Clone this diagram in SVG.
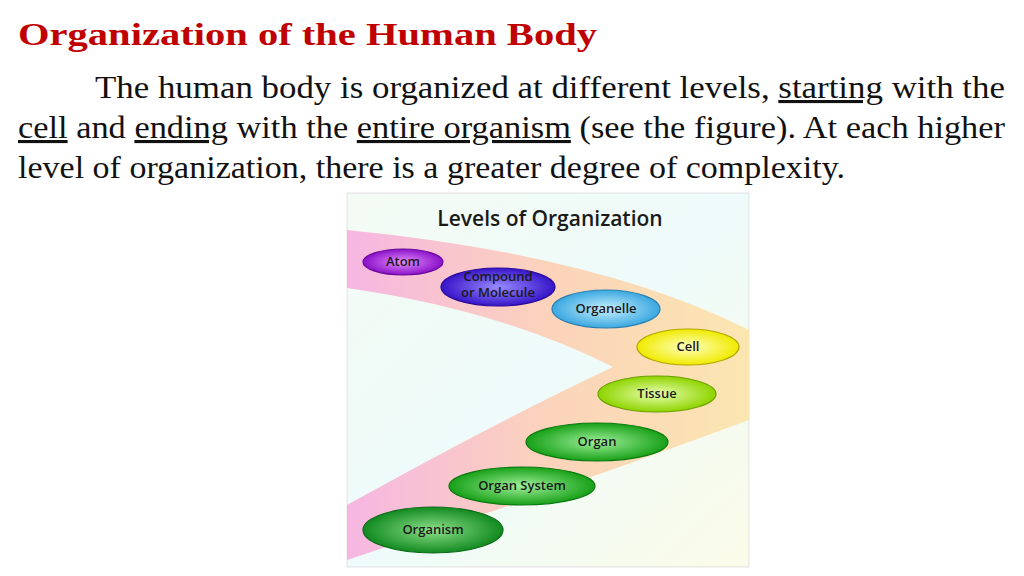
<svg xmlns="http://www.w3.org/2000/svg" width="1024" height="576" viewBox="0 0 1024 576">
<style>
.serif{font-family:"Liberation Serif","Times New Roman",Tinos,serif;font-size:31px;fill:#111}
.title{font-family:"Liberation Serif","Times New Roman",Tinos,serif;font-weight:bold;font-size:31px;fill:#c00000}
.u{text-decoration:underline}
.lbl{font-family:"Open Sans","DejaVu Sans",sans-serif;font-weight:600;font-size:13px;fill:#1a1a1a;text-anchor:middle}
.node ellipse{stroke-width:1.2}
</style>
<defs>
<linearGradient id="bg" x1="0" y1="0" x2="1" y2="1"><stop offset="0" stop-color="#f4fbf4"/><stop offset="0.5" stop-color="#eefbfa"/><stop offset="1" stop-color="#fbfbe8"/></linearGradient>
<linearGradient id="band" x1="0" y1="0" x2="1" y2="0"><stop offset="0" stop-color="#f6b6e2"/><stop offset="0.5" stop-color="#fbd3bb"/><stop offset="1" stop-color="#fbe6b0"/></linearGradient>
<radialGradient id="gPurple"><stop offset="0" stop-color="#e58cff"/><stop offset="1" stop-color="#8a10c8"/></radialGradient>
<radialGradient id="gBlue"><stop offset="0" stop-color="#9a8cff"/><stop offset="1" stop-color="#3614c8"/></radialGradient>
<radialGradient id="gSky"><stop offset="0" stop-color="#c8f0ff"/><stop offset="1" stop-color="#3aa8e0"/></radialGradient>
<radialGradient id="gYellow"><stop offset="0" stop-color="#ffffc0"/><stop offset="1" stop-color="#f0ea00"/></radialGradient>
<radialGradient id="gLime"><stop offset="0" stop-color="#eaffb0"/><stop offset="1" stop-color="#8ed400"/></radialGradient>
<radialGradient id="gGreen"><stop offset="0" stop-color="#9ef09a"/><stop offset="1" stop-color="#18a018"/></radialGradient>
<radialGradient id="gDark"><stop offset="0" stop-color="#8ee08a"/><stop offset="1" stop-color="#128a20"/></radialGradient>
</defs>
<rect width="1024" height="576" fill="#fff"/>
<text class="title" x="18" y="45" textLength="579" lengthAdjust="spacingAndGlyphs">Organization of the Human Body</text>
<text class="serif" x="95" y="98" textLength="910" lengthAdjust="spacingAndGlyphs">The human body is organized at different levels, <tspan class="u">starting</tspan> with the</text>
<text class="serif" x="18" y="138" textLength="987" lengthAdjust="spacingAndGlyphs"><tspan class="u">cell</tspan> and <tspan class="u">ending</tspan> with the <tspan class="u">entire organism</tspan> (see the figure). At each higher</text>
<text class="serif" x="18" y="178" textLength="827" lengthAdjust="spacingAndGlyphs">level of organization, there is a greater degree of complexity.</text>
<g id="figure">
<rect x="347" y="193" width="402" height="374" fill="url(#bg)" stroke="#ddd" stroke-width="0.8"/>
<path d="M347,230 Q600,255 749,330 L749,420 Q560,490 347,560 L347,505 Q500,420 613,367 Q500,310 347,288 Z" fill="url(#band)"/>
<text x="550" y="226" font-family="Open Sans,DejaVu Sans,sans-serif" font-size="21" font-weight="600" fill="#1a1a1a" text-anchor="middle">Levels of Organization</text>
</g>
<g id="atom" class="node"><ellipse cx="403" cy="262" rx="40" ry="13" fill="url(#gPurple)" stroke="#6a0a9a"/><text class="lbl" x="403" y="266" font-size="12">Atom</text></g>
<g id="compound" class="node"><ellipse cx="498" cy="287" rx="57" ry="19" fill="url(#gBlue)" stroke="#2a0a9a"/><text class="lbl" x="498" y="281" font-size="10">Compound</text><text class="lbl" x="498" y="297" font-size="10">or Molecule</text></g>
<g id="organelle" class="node"><ellipse cx="606" cy="309" rx="54" ry="19" fill="url(#gSky)" stroke="#2a80b0"/><text class="lbl" x="606" y="313">Organelle</text></g>
<g id="cell" class="node"><ellipse cx="688" cy="347" rx="51" ry="18" fill="url(#gYellow)" stroke="#b0a800"/><text class="lbl" x="688" y="351">Cell</text></g>
<g id="tissue" class="node"><ellipse cx="657" cy="394" rx="59" ry="18" fill="url(#gLime)" stroke="#6aa000"/><text class="lbl" x="657" y="398">Tissue</text></g>
<g id="organ" class="node"><ellipse cx="597" cy="442" rx="71" ry="19" fill="url(#gGreen)" stroke="#0a7a10"/><text class="lbl" x="597" y="446">Organ</text></g>
<g id="organ-system" class="node"><ellipse cx="522" cy="486" rx="73" ry="19" fill="url(#gGreen)" stroke="#0a7a10"/><text class="lbl" x="522" y="490">Organ System</text></g>
<g id="organism" class="node"><ellipse cx="433" cy="530" rx="70" ry="23" fill="url(#gDark)" stroke="#0a6a18"/><text class="lbl" x="433" y="534">Organism</text></g>
<g id="connectors"></g>
</svg>
